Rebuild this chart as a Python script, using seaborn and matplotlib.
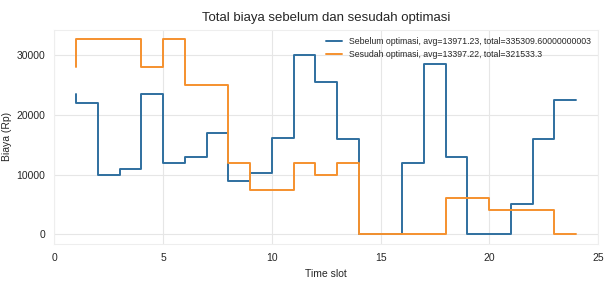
import numpy as np
import pandas as pd
import matplotlib
matplotlib.use('Agg')
import matplotlib.pyplot as plt
import seaborn as sns

# time slots 1..24
time_slot = list(range(1, 25))

# cost per slot (Rp)
sebelum = [23500, 22000, 10000, 11000, 23500, 12000, 13000, 17000, 9000, 10200,
           16200, 30000, 25500, 16000, 0, 0, 12000, 28500, 13000, 0,
           0, 5000, 16000, 22500]
sesudah = [28000, 32700, 32700, 32700, 28000, 32700, 25000, 25000, 12000, 7400,
           7400, 12000, 10000, 12000, 0, 0, 0, 0, 6000, 6000,
           4000, 4000, 4000, 0]

label_sebelum = 'Sebelum optimasi, avg=13971.23, total=335309.60000000003'
label_sesudah = 'Sesudah optimasi, avg=13397.22, total=321533.3'

df = pd.DataFrame({
    'Time slot': time_slot * 2,
    'Biaya (Rp)': sebelum + sesudah,
    'series': [label_sebelum] * 24 + [label_sesudah] * 24,
})

sns.set_style('whitegrid', {'grid.color': '#e6e6e6'})
plt.rcParams['font.family'] = ['Liberation Sans', 'DejaVu Sans']

fig, ax = plt.subplots(figsize=(6.04, 2.82), dpi=100)
sns.lineplot(data=df, x='Time slot', y='Biaya (Rp)', hue='series',
             palette=['#2f6f9f', '#f5912e'], drawstyle='steps-pre',
             linewidth=1.4, ax=ax)

ax.set_xlim(0, 25)
ax.set_yticks([0, 10000, 20000, 30000])
ax.set_title('Total biaya sebelum dan sesudah optimasi', fontsize=9.5)
ax.set_xlabel('Time slot', fontsize=7.5)
ax.set_ylabel('Biaya (Rp)', fontsize=7.5, labelpad=3)
ax.tick_params(labelsize=7.5, pad=3)
ax.legend(loc='upper right', fontsize=6.3, frameon=False, handlelength=1.8,
          borderaxespad=0.4, labelspacing=0.5)
for s in ax.spines.values():
    s.set_color('#eeeeee')

plt.subplots_adjust(left=0.09, right=0.99, top=0.895, bottom=0.135)
plt.savefig('out.png', dpi=100)
plt.close()
